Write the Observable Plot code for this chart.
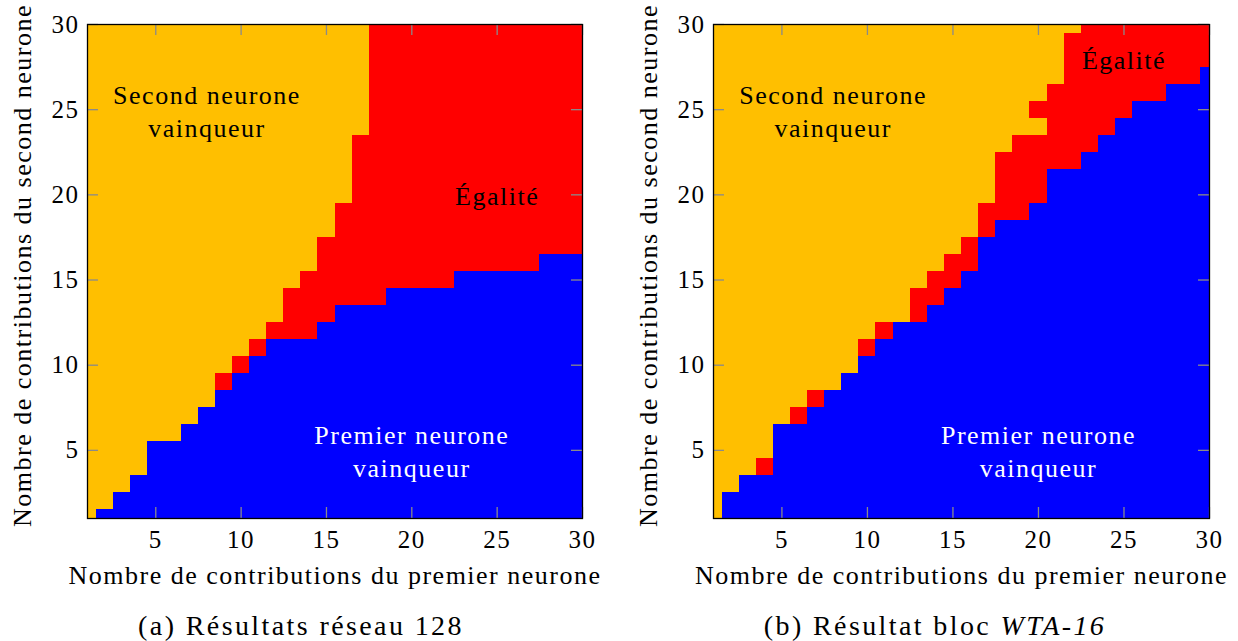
<!DOCTYPE html>
<html>
<head>
<meta charset="utf-8">
<script src="https://cdn.jsdelivr.net/npm/d3@7"></script>
<script src="https://cdn.jsdelivr.net/npm/@observablehq/plot@0.6"></script>
<style>
  body { margin: 0; background: #fff; width: 1238px; height: 641px; position: relative; overflow: hidden; font-family: "Liberation Serif", serif; }
  .panel { position: absolute; top: 0; }
  .cap { position: absolute; top: 611px; font-size: 28px; line-height: 30px; letter-spacing: 2.4px; white-space: nowrap; transform: translateX(-50%); color: #000; }
</style>
</head>
<body>
<div id="pa" class="panel" style="left:0px"></div>
<div id="pb" class="panel" style="left:626px"></div>
<div class="cap" style="left:301px">(a) Résultats réseau 128</div>
<div class="cap" style="left:935px">(b) Résultat bloc <i>WTA-16</i></div>
<script>
// ---- data ----
const xs = d3.range(1, 31);               // first-neuron contributions (columns)
const ys = d3.range(1, 31);               // second-neuron contributions (rows)
const categories = ["Premier neurone vainqueur", "Égalité", "Second neurone vainqueur"];
const colors = ["#0000FF", "#FF0000", "#FFBF00"];

// (a) réseau 128 : highest row won by the first neuron, lowest row won by the second neuron (31 = none)
const aBlueMax   = [0, 1, 2, 3, 5, 5, 6, 7, 8, 9, 10, 11, 11, 11, 12, 13, 13, 13, 14, 14, 14, 14, 15, 15, 15, 15, 15, 16, 16, 16];
const aOrangeMin = [1, 2, 3, 4, 6, 6, 7, 8, 10, 11, 12, 13, 15, 16, 18, 20, 24, 31, 31, 31, 31, 31, 31, 31, 31, 31, 31, 31, 31, 31];
const aExtraOrange = [];

// (b) bloc WTA-16
const bBlueMax   = [0, 2, 3, 3, 6, 6, 7, 8, 9, 10, 11, 12, 12, 13, 14, 15, 17, 18, 18, 19, 21, 21, 22, 23, 24, 25, 25, 26, 26, 27];
const bOrangeMin = [1, 3, 4, 5, 7, 8, 9, 9, 10, 12, 13, 13, 15, 16, 17, 18, 20, 23, 24, 26, 27, 30, 31, 31, 31, 31, 31, 31, 31, 31];
const bExtraOrange = [[20, 24]];

const ticks = [5, 10, 15, 20, 25, 30];
const xLabel = "Nombre de contributions du premier neurone";
const yLabel = "Nombre de contributions du second neurone";

const aNotes = [
  {x: 8,  y: 25, text: "Second neurone\nvainqueur", color: "black"},
  {x: 25, y: 20, text: "Égalité", color: "black"},
  {x: 20, y: 5,  text: "Premier neurone\nvainqueur", color: "white"}
];
const bNotes = [
  {x: 8,  y: 25, text: "Second neurone\nvainqueur", color: "black"},
  {x: 25, y: 28, text: "Égalité", color: "black"},
  {x: 20, y: 5,  text: "Premier neurone\nvainqueur", color: "white"}
];

// ---- build cells ----
function cells(blueMax, orangeMin, extra) {
  const out = [];
  xs.forEach((x, i) => {
    ys.forEach(y => {
      let c = y <= blueMax[i] ? 0 : (y >= orangeMin[i] ? 2 : 1);
      if (extra.some(([ex, ey]) => ex === x && ey === y)) c = 2;
      out.push({x, y, c: categories[c]});
    });
  });
  return out;
}

function chart(data, notes, width) {
  const H = 600, mt = 24, mb = 82, ml = 87, mr = 18;
  const ph = H - mt - mb, pw = width - ml - mr, tl = 11;
  return Plot.plot({
    width, height: H,
    marginTop: mt, marginBottom: mb, marginLeft: ml, marginRight: mr,
    x: {domain: [1, 30]},
    y: {domain: [1, 30]},
    color: {domain: categories, range: colors},
    style: {fontFamily: "'Liberation Serif', serif", fontSize: "25px", background: "white", overflow: "visible", letterSpacing: "1.5px", color: "black"},
    marks: [
      Plot.rect(data, {x1: d => d.x - 0.5, x2: d => d.x + 0.5, y1: d => d.y - 0.5, y2: d => d.y + 0.5, fill: "c", clip: true, shapeRendering: "crispEdges"}),
      Plot.tickX(ticks, {x: d => d, insetTop: ph - tl, stroke: "#8a8a8a", strokeWidth: 1.3}),
      Plot.tickX(ticks, {x: d => d, insetBottom: ph - tl, stroke: "#8a8a8a", strokeWidth: 1.3}),
      Plot.tickY(ticks, {y: d => d, insetRight: pw - tl, stroke: "#8a8a8a", strokeWidth: 1.3}),
      Plot.tickY(ticks, {y: d => d, insetLeft: pw - tl, stroke: "#8a8a8a", strokeWidth: 1.3}),
      Plot.frame({stroke: "black", strokeWidth: 1.3}),
      Plot.axisX(ticks, {tickSize: 0, tickPadding: 12, fontSize: 25, label: null}),
      Plot.axisY(ticks, {tickSize: 0, tickPadding: 8, fontSize: 25, label: null}),
      Plot.text(notes, {x: "x", y: "y", text: "text", fill: "color", fontSize: 26, lineHeight: 1.27}),
      Plot.text([xLabel], {frameAnchor: "bottom", textAnchor: "middle", dy: 65, fontSize: 26, fill: "black"}),
      Plot.text([yLabel], {frameAnchor: "left", textAnchor: "middle", rotate: -90, dx: -65, dy: -6, fontSize: 26, fill: "black"})
    ]
  });
}

document.getElementById("pa").appendChild(chart(cells(aBlueMax, aOrangeMin, aExtraOrange), aNotes, 600));
document.getElementById("pb").appendChild(chart(cells(bBlueMax, bOrangeMin, bExtraOrange), bNotes, 601));
</script>
</body>
</html>
